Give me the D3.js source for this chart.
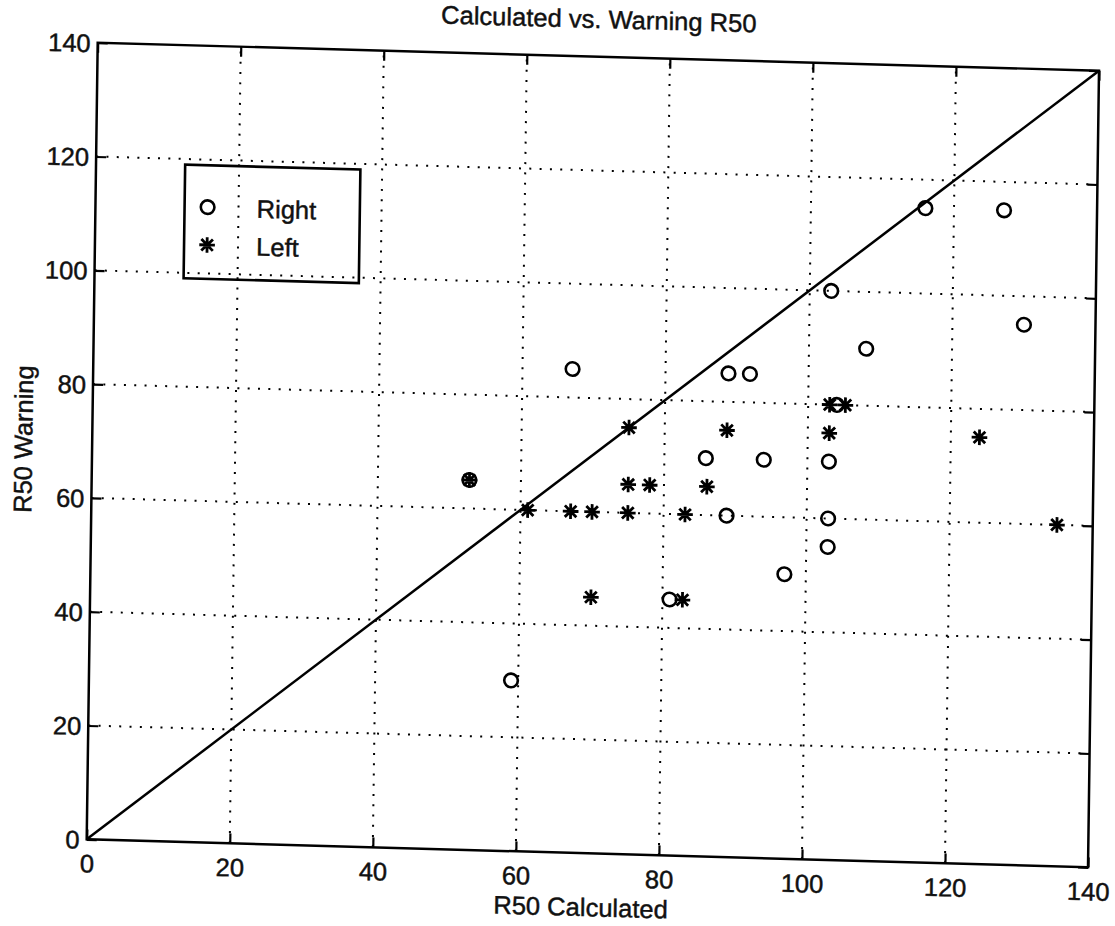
<!DOCTYPE html>
<html>
<head>
<meta charset="utf-8">
<script src="https://cdn.jsdelivr.net/npm/d3@7"></script>
<style>
  html, body { margin: 0; padding: 0; background: #fff; }
  svg { display: block; }
  text { font-family: "Liberation Sans", Arial, Helvetica, sans-serif; fill: #111; stroke: #111; stroke-width: 0.45px; }
</style>
</head>
<body>
<script>
// R50 radii: calculated vs. warning, split by storm side
const rightCalc = [67, 88.8, 91.8, 85.8, 93.9, 52.8, 88.8, 81, 97, 103, 130, 108, 104, 103, 103, 103, 59, 116, 127];
const rightWarn = [85, 85, 85, 70, 70, 65, 60, 45, 50, 100, 95, 90, 80, 70, 60, 55, 30, 115, 115];

const leftCalc = [75, 88.7, 75, 78, 86, 61, 67, 70, 75, 83, 70, 82.8, 103, 105.2, 103, 124, 135, 52.8];
const leftWarn = [75, 75, 65, 65, 65, 60, 60, 60, 60, 60, 45, 45, 80, 80, 75, 75, 60, 65];

const xTicks = [0, 20, 40, 60, 80, 100, 120, 140];
const yTicks = [0, 20, 40, 60, 80, 100, 120, 140];
const xDomain = [0, 140];
const yDomain = [0, 140];
const seriesNames = ["Right", "Left"];

const titleText = "Calculated vs. Warning R50";
const xLabelText = "R50 Calculated";
const yLabelText = "R50 Warning";

// ---- layout ----
const W = 1000, H = 800;
// page placement of the axes box (slightly skewed sheet)
const M = { a: 1.0013, b: 0.028, c: -0.01375, d: 0.99575, e: 97.7, f: 42.7 };
const FS = 25.5;

const svg = d3.select("body").append("svg")
  .attr("width", 1115).attr("height", 926);
svg.append("rect").attr("width", 1115).attr("height", 926).attr("fill", "#fff");

const g = svg.append("g")
  .attr("transform", `matrix(${M.a},${M.b},${M.c},${M.d},${M.e},${M.f})`);

const x = d3.scaleLinear().domain(xDomain).range([0, W]);
const y = d3.scaleLinear().domain(yDomain).range([H, 0]);

// dotted grid
const grid = g.append("g").attr("stroke", "#000").attr("stroke-width", 2)
  .attr("stroke-dasharray", "2 8.3").attr("fill", "none");
grid.selectAll("line.vx").data(xTicks.filter(t => t > xDomain[0] && t < xDomain[1]))
  .join("line").attr("class", "vx")
  .attr("x1", d => x(d)).attr("x2", d => x(d)).attr("y1", H).attr("y2", 0);
grid.selectAll("line.hy").data(yTicks.filter(t => t > yDomain[0] && t < yDomain[1]))
  .join("line").attr("class", "hy")
  .attr("y1", d => y(d)).attr("y2", d => y(d)).attr("x1", 0).attr("x2", W);

// axes with inward ticks on all four sides
function styleAxis(sel) {
  sel.select(".domain").remove();
  sel.selectAll(".tick line").attr("stroke", "#000").attr("stroke-width", 2.2);
  sel.selectAll(".tick text").attr("font-family", '"Liberation Sans", Arial, sans-serif')
    .attr("font-size", FS).attr("fill", "#111");
}
const axB = g.append("g").attr("transform", `translate(0,${H})`)
  .call(d3.axisBottom(x).tickValues(xTicks).tickFormat(d3.format("d"))
    .tickSizeInner(-10).tickSizeOuter(0));
styleAxis(axB);
axB.selectAll(".tick text").attr("y", 24).attr("dy", "0.36em");

const axL = g.append("g")
  .call(d3.axisLeft(y).tickValues(yTicks).tickFormat(d3.format("d"))
    .tickSizeInner(-10).tickSizeOuter(0).tickPadding(7));
styleAxis(axL);
axL.selectAll(".tick text").attr("dy", "0.36em");

const axT = g.append("g")
  .call(d3.axisTop(x).tickValues(xTicks).tickFormat("").tickSizeInner(-10).tickSizeOuter(0));
styleAxis(axT);
const axR = g.append("g").attr("transform", `translate(${W},0)`)
  .call(d3.axisRight(y).tickValues(yTicks).tickFormat("").tickSizeInner(-10).tickSizeOuter(0));
styleAxis(axR);

// box
g.append("rect").attr("x", 0).attr("y", 0).attr("width", W).attr("height", H)
  .attr("fill", "none").attr("stroke", "#000").attr("stroke-width", 2.5);

// 1:1 reference line
g.append("line")
  .attr("x1", x(xDomain[0])).attr("y1", y(yDomain[0]))
  .attr("x2", x(xDomain[1])).attr("y2", y(yDomain[1]))
  .attr("stroke", "#000").attr("stroke-width", 2.5);

// markers
const starPath = (r) => {
  const q = r * 0.74;
  return `M${-r},0L${r},0M0,${-r}L0,${r}M${-q},${-q}L${q},${q}M${-q},${q}L${q},${-q}`;
};
function drawCircle(sel) {
  sel.append("circle").attr("r", 6.8).attr("fill", "none")
    .attr("stroke", "#000").attr("stroke-width", 2.6);
}
function drawStar(sel) {
  sel.append("path").attr("d", starPath(7.8)).attr("fill", "none")
    .attr("stroke", "#000").attr("stroke-width", 2.8);
}

const rightPts = rightCalc.map((c, i) => ({ c, w: rightWarn[i] }));
const leftPts = leftCalc.map((c, i) => ({ c, w: leftWarn[i] }));

g.append("g").selectAll("g").data(rightPts).join("g")
  .attr("transform", d => `translate(${x(d.c)},${y(d.w)})`)
  .call(drawCircle);
g.append("g").selectAll("g").data(leftPts).join("g")
  .attr("transform", d => `translate(${x(d.c)},${y(d.w)})`)
  .call(drawStar);

// legend
const leg = g.append("g").attr("transform", "translate(89,120)");
leg.append("rect").attr("width", 175).attr("height", 114)
  .attr("fill", "none").attr("stroke", "#000").attr("stroke-width", 2.6);
const rows = leg.selectAll("g.row").data(seriesNames).join("g").attr("class", "row")
  .attr("transform", (d, i) => `translate(0,${42 + i * 38})`);
rows.each(function (d, i) {
  const r = d3.select(this);
  const m = r.append("g").attr("transform", "translate(23,0)");
  if (i === 0) drawCircle(m); else drawStar(m);
  r.append("text").attr("x", 72).attr("dy", "0.36em")
    .attr("font-size", FS).text(d);
});

// title and axis labels
g.append("text").attr("x", W / 2).attr("y", -38).attr("dy", "0.36em")
  .attr("text-anchor", "middle").attr("font-size", FS).text(titleText);
g.append("text").attr("x", W / 2 - 6).attr("y", H + 54).attr("dy", "0.36em")
  .attr("text-anchor", "middle").attr("font-size", FS).text(xLabelText);
g.append("text").attr("transform", `translate(-69,${H / 2}) rotate(-90)`)
  .attr("dy", "0.36em").attr("text-anchor", "middle").attr("font-size", FS)
  .text(yLabelText);
</script>
</body>
</html>
